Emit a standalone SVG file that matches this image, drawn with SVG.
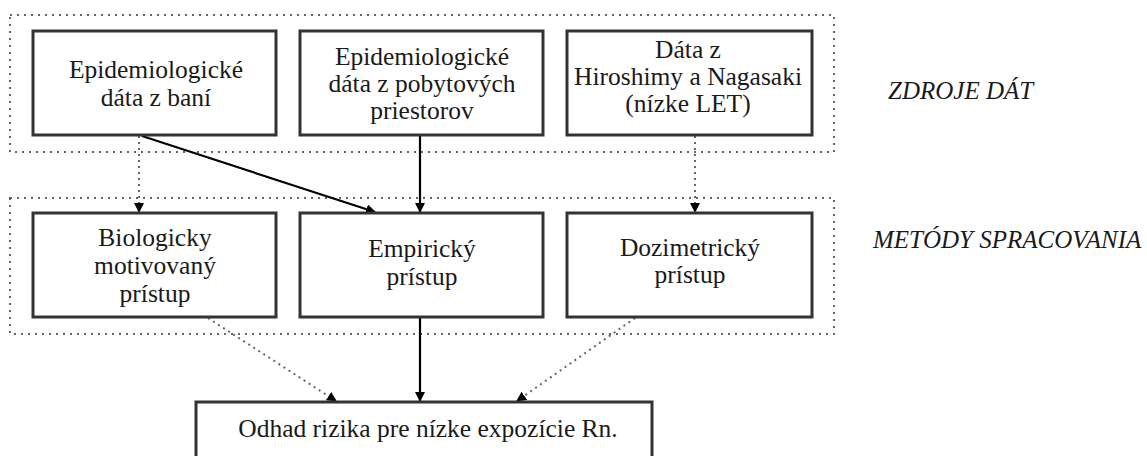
<svg xmlns="http://www.w3.org/2000/svg" width="1147" height="456" viewBox="0 0 1147 456">
<style>
.box{fill:#fff;stroke:#333;stroke-width:3}
.grp{fill:none;stroke:#666;stroke-width:2;stroke-dasharray:2 5}
.t{font-family:'Liberation Serif','Tinos','DejaVu Serif',serif;font-size:25.5px;fill:#1a1a1a;text-anchor:middle}
.lab{font-family:'Liberation Serif','Tinos','DejaVu Serif',serif;font-size:25px;font-style:italic;fill:#1a1a1a}
.sol{fill:none;stroke:#000;stroke-width:2.2}
.dot{fill:none;stroke:#666;stroke-width:2;stroke-dasharray:2 4}
</style>
<defs>
<marker id="ah" markerWidth="10" markerHeight="10" refX="9" refY="5" orient="auto" markerUnits="userSpaceOnUse">
<path d="M0,0 L10,5 L0,10 Z" fill="#000"/>
</marker>
</defs>
<rect width="1147" height="456" fill="#fff"/>
<g id="groups">
<rect class="grp" x="10" y="15" width="824" height="137"/>
<rect class="grp" x="10" y="198" width="824" height="136"/>
</g>
<g id="labels">
<text class="lab" x="888" y="99">ZDROJE DÁT</text>
<text class="lab" x="873" y="248">METÓDY SPRACOVANIA</text>
</g>
<g id="connectors">
<line class="dot" x1="139" y1="136" x2="139" y2="212" marker-end="url(#ah)"/>
<line class="sol" x1="142" y1="136" x2="375" y2="212" marker-end="url(#ah)"/>
<line class="sol" x1="420" y1="136" x2="420" y2="212" marker-end="url(#ah)"/>
<line class="dot" x1="695" y1="136" x2="695" y2="212" marker-end="url(#ah)"/>
<line class="dot" x1="208" y1="318" x2="336" y2="401" marker-end="url(#ah)"/>
<line class="sol" x1="420" y1="318" x2="420" y2="401" marker-end="url(#ah)"/>
<line class="dot" x1="635" y1="318" x2="517" y2="401" marker-end="url(#ah)"/>
</g>
<g id="n1">
<rect class="box" x="33" y="31" width="243" height="104"/>
<text class="t" x="156" y="78">Epidemiologické</text>
<text class="t" x="156" y="106">dáta z baní</text>
</g>
<g id="n2">
<rect class="box" x="300" y="31" width="243" height="104"/>
<text class="t" x="422" y="65">Epidemiologické</text>
<text class="t" x="422" y="92">dáta z pobytových</text>
<text class="t" x="422" y="119">priestorov</text>
</g>
<g id="n3">
<rect class="box" x="567" y="31" width="245" height="104"/>
<text class="t" x="688" y="58">Dáta z</text>
<text class="t" x="688" y="85">Hiroshimy a Nagasaki</text>
<text class="t" x="688" y="112">(nízke LET)</text>
</g>
<g id="n4">
<rect class="box" x="33" y="213" width="243" height="104"/>
<text class="t" x="155" y="246">Biologicky</text>
<text class="t" x="155" y="274">motivovaný</text>
<text class="t" x="155" y="302">prístup</text>
</g>
<g id="n5">
<rect class="box" x="300" y="213" width="243" height="104"/>
<text class="t" x="422" y="257">Empirický</text>
<text class="t" x="422" y="285">prístup</text>
</g>
<g id="n6">
<rect class="box" x="567" y="213" width="245" height="104"/>
<text class="t" x="690" y="256">Dozimetrický</text>
<text class="t" x="690" y="283">prístup</text>
</g>
<g id="n7">
<rect class="box" x="196" y="402" width="456" height="70"/>
<text class="t" x="428" y="437">Odhad rizika pre nízke expozície Rn.</text>
</g>
</svg>
